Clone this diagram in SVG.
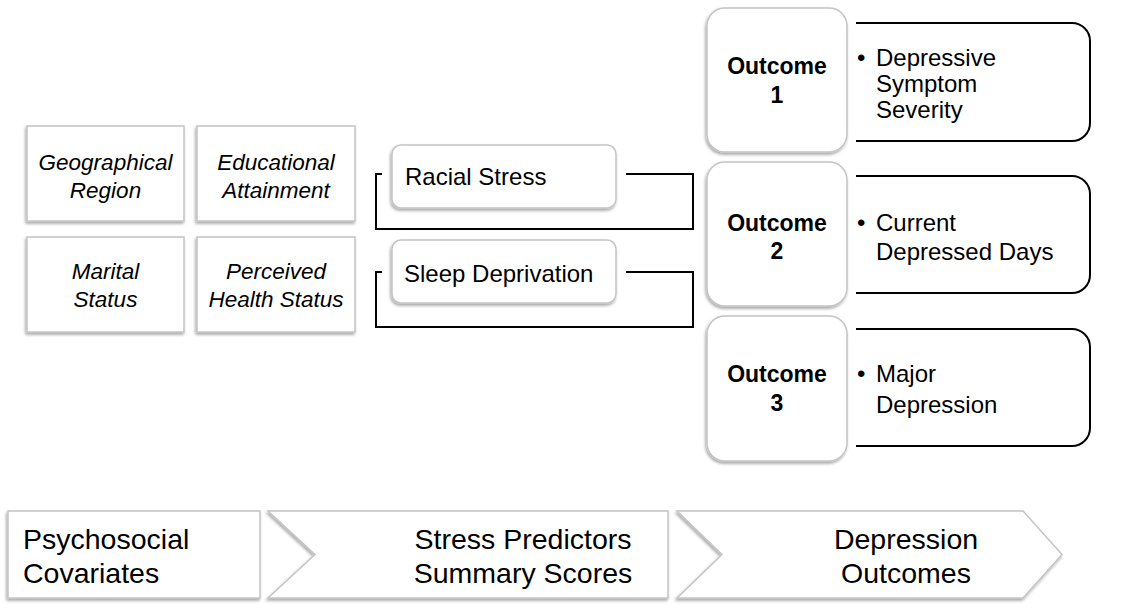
<svg xmlns="http://www.w3.org/2000/svg" width="1122" height="612" viewBox="0 0 1122 612">
<defs>
<filter id="sh" x="-10%" y="-10%" width="125%" height="130%">
<feDropShadow dx="-1" dy="2" stdDeviation="1.5" flood-color="#000" flood-opacity="0.35"/>
</filter>
<style>
.gbox{fill:#fff;stroke:#c4c4c4;stroke-width:1.5;filter:url(#sh)}
.bbox{fill:none;stroke:#000;stroke-width:2}
.conn{fill:none;stroke:#000;stroke-width:2}
.cov{font-family:"Liberation Sans",Arial,sans-serif;font-style:italic;font-size:22.5px;fill:#000;text-anchor:middle}
.st{font-family:"Liberation Sans",Arial,sans-serif;font-size:24px;fill:#000}
.oc{font-family:"Liberation Sans",Arial,sans-serif;font-weight:bold;font-size:23px;fill:#000;text-anchor:middle}
.bl{font-family:"Liberation Sans",Arial,sans-serif;font-size:24px;fill:#000}
.ph{font-family:"Liberation Sans",Arial,sans-serif;font-size:28.5px;fill:#000}
</style>
</defs>
<rect width="1122" height="612" fill="#fff"/>

<g id="connectors">
<path class="conn" d="M382,174 H376 V229 H693 V174 H626"/>
<path class="conn" d="M382,272 H376 V327 H693 V272 H626"/>
</g>

<g id="geo">
<rect class="gbox" x="27" y="126" width="157" height="95"/>
<text class="cov" x="105.5" y="170">Geographical</text>
<text class="cov" x="105.5" y="198">Region</text>
</g>
<g id="edu">
<rect class="gbox" x="197" y="126" width="158" height="95"/>
<text class="cov" x="276" y="170">Educational</text>
<text class="cov" x="276" y="198">Attainment</text>
</g>
<g id="marital">
<rect class="gbox" x="27" y="237" width="157" height="95"/>
<text class="cov" x="105.5" y="279">Marital</text>
<text class="cov" x="105.5" y="307">Status</text>
</g>
<g id="health">
<rect class="gbox" x="197" y="237" width="158" height="95"/>
<text class="cov" x="276" y="279">Perceived</text>
<text class="cov" x="276" y="307">Health Status</text>
</g>

<g id="racial">
<rect class="gbox" x="392" y="145" width="224" height="63" rx="9"/>
<text class="st" x="405" y="185">Racial Stress</text>
</g>
<g id="sleep">
<rect class="gbox" x="392" y="240" width="224" height="63" rx="9"/>
<text class="st" x="404" y="282">Sleep Deprivation</text>
</g>

<g id="outcome1">
<path class="bbox" d="M856,23 H1072 A18,18 0 0 1 1090,41 V123 A18,18 0 0 1 1072,141 H856"/>
<rect class="gbox" x="707" y="8" width="140" height="144" rx="18"/>
<text class="oc" x="777" y="74">Outcome</text>
<text class="oc" x="777" y="103">1</text>
<text class="bl" x="857" y="66">•</text>
<text class="bl" x="876" y="66">Depressive</text>
<text class="bl" x="876" y="92">Symptom</text>
<text class="bl" x="876" y="118">Severity</text>
</g>
<g id="outcome2">
<path class="bbox" d="M856,176 H1072 A18,18 0 0 1 1090,194 V275 A18,18 0 0 1 1072,293 H856"/>
<rect class="gbox" x="707" y="162" width="140" height="144" rx="18"/>
<text class="oc" x="777" y="231">Outcome</text>
<text class="oc" x="777" y="259">2</text>
<text class="bl" x="857" y="231">•</text>
<text class="bl" x="876" y="231">Current</text>
<text class="bl" x="876" y="260">Depressed Days</text>
</g>
<g id="outcome3">
<path class="bbox" d="M856,329 H1072 A18,18 0 0 1 1090,347 V428 A18,18 0 0 1 1072,446 H856"/>
<rect class="gbox" x="707" y="316" width="140" height="145" rx="18"/>
<text class="oc" x="777" y="382">Outcome</text>
<text class="oc" x="777" y="411">3</text>
<text class="bl" x="857" y="382">•</text>
<text class="bl" x="876" y="382">Major</text>
<text class="bl" x="876" y="413">Depression</text>
</g>

<g id="phase1">
<rect class="gbox" x="8" y="511" width="252" height="87"/>
<text class="ph" x="23" y="549">Psychosocial</text>
<text class="ph" x="23" y="583">Covariates</text>
</g>
<g id="phase2">
<polygon class="gbox" points="268,511 668,511 668,598 268,598 315,554.5"/>
<text class="ph" x="523" y="549" text-anchor="middle">Stress Predictors</text>
<text class="ph" x="523" y="583" text-anchor="middle">Summary Scores</text>
</g>
<g id="phase3">
<polygon class="gbox" points="677,511 1023,511 1062,554.5 1023,598 677,598 722,554.5"/>
<text class="ph" x="906" y="549" text-anchor="middle">Depression</text>
<text class="ph" x="906" y="583" text-anchor="middle">Outcomes</text>
</g>
</svg>
